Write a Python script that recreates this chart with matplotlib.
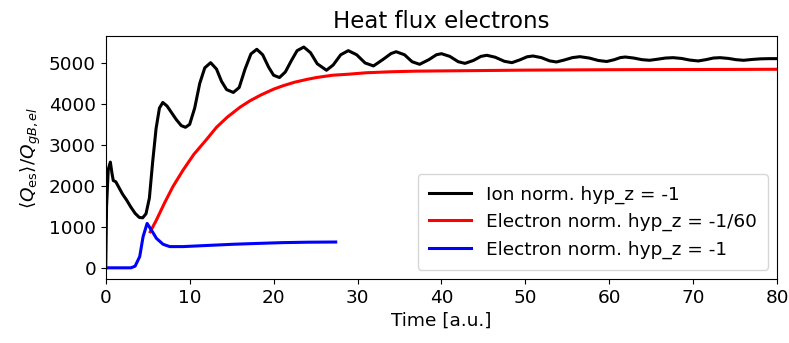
import matplotlib
matplotlib.use("Agg")
import matplotlib.pyplot as plt
import numpy as np

# ion-normalised run, hyp_z = -1
t_ion = [0, 0.1, 0.3, 0.55, 0.75, 0.9, 1.2, 1.6, 2.0, 2.5, 3.0, 3.5, 4.0, 4.4, 4.8,
         5.2, 5.6, 6.0, 6.4, 6.8, 7.3, 7.8, 8.4, 9.0, 9.5, 10.0, 10.6, 11.2, 11.8,
         12.5, 13.2, 13.8, 14.4, 15.2, 15.9, 16.6, 17.3, 18.0, 18.7, 19.4, 20.0,
         20.7, 21.4, 22.1, 22.8, 23.6, 24.4, 25.2, 26.3, 27.1, 28.0, 28.9, 29.9,
         30.9, 31.9, 33.0, 34.0, 34.6, 35.6, 36.5, 37.4, 38.5, 39.4, 40.0, 41.0,
         42.0, 42.8, 43.8, 44.7, 45.4, 46.4, 47.5, 48.4, 49.4, 50.2, 50.9, 51.9,
         52.9, 53.7, 54.6, 55.6, 56.5, 57.6, 58.7, 59.7, 60.6, 61.3, 61.9, 62.9,
         63.9, 64.8, 65.7, 66.7, 67.6, 68.6, 69.6, 70.6, 71.5, 72.4, 73.2, 74.2,
         75.1, 76.0, 77.0, 78.0, 79.0, 80.0]
q_ion = [0, 1500, 2400, 2580, 2300, 2130, 2100, 1950, 1800, 1650, 1480, 1330, 1230,
         1220, 1320, 1700, 2600, 3400, 3900, 4036, 3950, 3800, 3620, 3470, 3430,
         3500, 3900, 4500, 4880, 5007, 4850, 4550, 4350, 4280, 4400, 4850, 5220,
         5333, 5200, 4900, 4700, 4644, 4780, 5050, 5300, 5388, 5250, 4980, 4822,
         4950, 5200, 5300, 5200, 5000, 4927, 5080, 5230, 5274, 5200, 5030, 4967,
         5080, 5200, 5226, 5160, 5030, 4990, 5060, 5160, 5187, 5140, 5040, 5007,
         5080, 5150, 5170, 5130, 5050, 5024, 5070, 5130, 5153, 5120, 5060, 5036,
         5080, 5130, 5145, 5120, 5080, 5065, 5090, 5120, 5129, 5110, 5070, 5049,
         5080, 5120, 5129, 5110, 5080, 5065, 5085, 5100, 5105, 5105]

# electron-normalised run, hyp_z = -1/60
t_el60 = [5.3, 6.0, 7.0, 8.0, 9.2, 10.5, 12.0, 13.2, 14.5, 16.0, 17.2, 18.5, 20.0,
          21.1, 22.5, 24.0, 25.1, 27.0, 28.9, 31.0, 34.0, 37.0, 40.0, 45.0, 50.0,
          55.0, 60.0, 65.0, 70.0, 75.0, 80.0]
q_el60 = [880, 1150, 1580, 1980, 2380, 2770, 3130, 3430, 3680, 3920, 4078, 4220,
          4360, 4442, 4530, 4600, 4644, 4700, 4725, 4760, 4785, 4800, 4806, 4815,
          4825, 4830, 4835, 4838, 4840, 4842, 4846]

# electron-normalised run, hyp_z = -1
t_el1 = [0, 3.0, 3.5, 4.05, 4.45, 4.93, 5.44, 6.04, 6.83, 7.63, 9.2, 12.0, 15.2,
         18.0, 21.1, 24.0, 27.4]
q_el1 = [0, 0, 40, 275, 760, 1084, 922, 720, 575, 518, 518, 545, 575, 595, 615,
         625, 630]

plt.rcParams["font.size"] = 13.3

fig, ax = plt.subplots(figsize=(7.89, 3.43), dpi=100)
fig.subplots_adjust(left=0.134, right=0.985, bottom=0.187, top=0.895)

ax.plot(t_ion, q_ion, color="black", lw=2.2, label="Ion norm. hyp_z = -1")
ax.plot(t_el60, q_el60, color="red", lw=2.2, label="Electron norm. hyp_z = -1/60")
ax.plot(t_el1, q_el1, color="blue", lw=2.2, label="Electron norm. hyp_z = -1")

ax.set_xlim(0, 80)
ax.set_xticks(np.arange(0, 81, 10))
ax.set_yticks(np.arange(0, 5001, 1000))
ax.set_xlabel("Time [a.u.]")
ax.set_ylabel(r"$\langle Q_{\rm es}\rangle / Q_{gB,el}$")
ax.set_title("Heat flux electrons", fontsize=16.5)
ax.legend(loc="lower right", handlelength=2.3, borderpad=0.6)

fig.savefig("out.png", dpi=100)
